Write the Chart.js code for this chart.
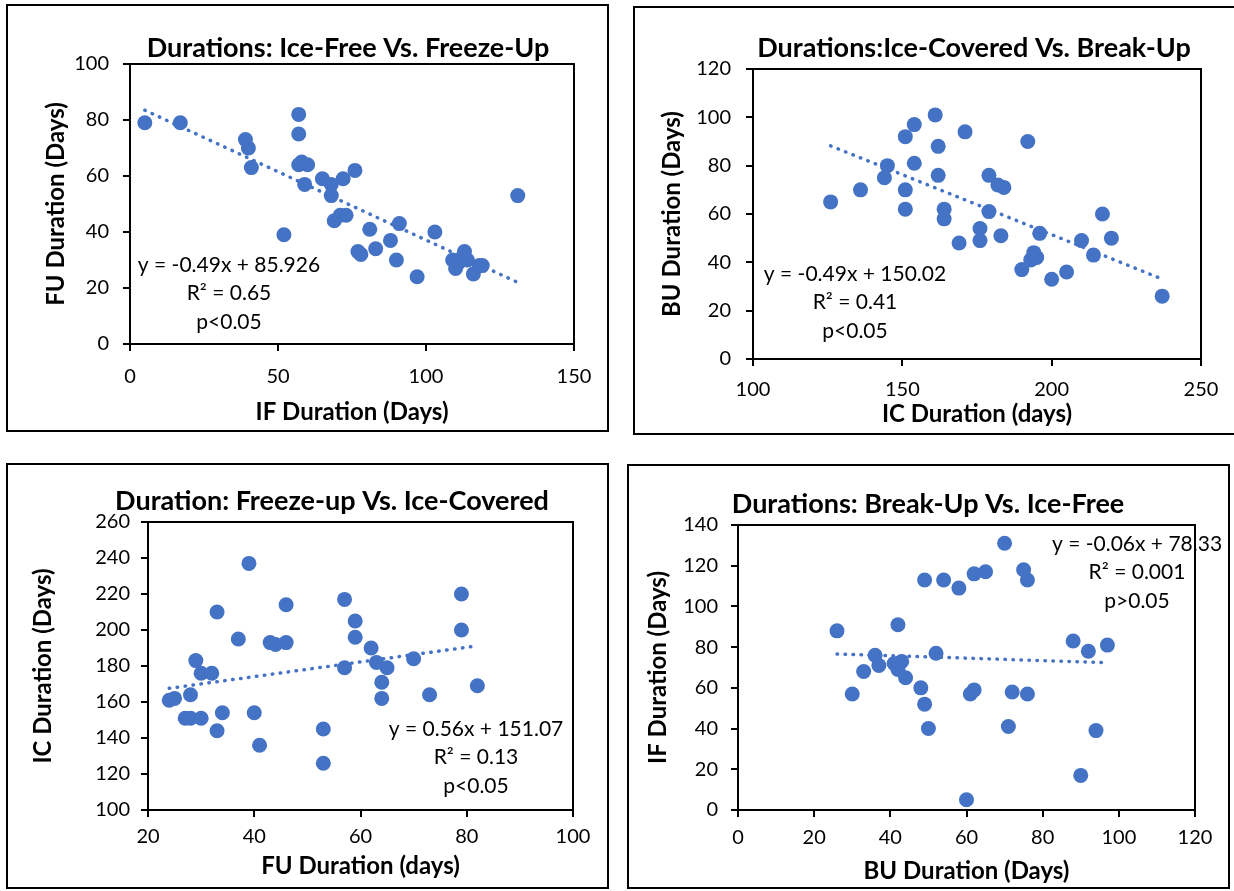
<!DOCTYPE html>
<html>
<head>
<meta charset="utf-8">
<script src="https://cdn.jsdelivr.net/npm/chart.js@4.4.1/dist/chart.umd.min.js"></script>
<style>
  body { margin: 0; background: #fff; overflow: hidden; width: 1234px; height: 891px; position: relative; }
  canvas { position: absolute; }
</style>
</head>
<body>
<canvas id="c1"></canvas>
<canvas id="c2"></canvas>
<canvas id="c3"></canvas>
<canvas id="c4"></canvas>
<script>
// Ice-Free vs Freeze-Up
const ifX = [5, 17, 39, 40, 41, 52, 57, 57, 57, 58, 60, 59, 65, 68, 72, 68, 69, 71, 73, 76, 77, 78, 81, 83, 88, 91, 90, 97, 103, 109, 110, 111, 113, 114, 116, 118, 119, 131];
const fuY = [79, 79, 73, 70, 63, 39, 82, 75, 64, 65, 64, 57, 59, 57, 59, 53, 44, 46, 46, 62, 33, 32, 41, 34, 37, 43, 30, 24, 40, 30, 27, 29, 33, 30, 25, 28, 28, 53];
const ifFuTrendX = [5, 131];
const ifFuTrendY = [83.5, 22.0];

// Ice-Covered vs Break-Up
const icX = [126, 136, 144, 145, 151, 151, 151, 154, 154, 161, 162, 162, 164, 164, 169, 171, 176, 176, 179, 179, 182, 184, 183, 190, 192, 193, 194, 195, 196, 200, 205, 210, 214, 217, 220, 237];
const buY = [65, 70, 75, 80, 92, 70, 62, 97, 81, 101, 88, 76, 62, 58, 48, 94, 54, 49, 76, 61, 72, 71, 51, 37, 90, 41, 44, 42, 52, 33, 36, 49, 43, 60, 50, 26];
const icBuTrendX = [126, 237];
const icBuTrendY = [88.2, 33.1];

// Freeze-up vs Ice-Covered
const fuX = [24, 25, 27, 28, 28, 29, 30, 30, 32, 33, 33, 34, 37, 39, 40, 41, 43, 44, 46, 46, 53, 53, 57, 57, 59, 59, 62, 63, 64, 64, 65, 70, 73, 79, 79, 82];
const icY = [161, 162, 151, 164, 151, 183, 176, 151, 176, 210, 144, 154, 195, 237, 154, 136, 193, 192, 193, 214, 145, 126, 217, 179, 205, 196, 190, 182, 171, 162, 179, 184, 164, 220, 200, 169];
const fuIcTrendX = [24, 82];
const fuIcTrendY = [167.6, 191.2];

// Break-Up vs Ice-Free
const buX = [26, 30, 33, 36, 37, 41, 42, 42, 43, 44, 48, 49, 49, 50, 52, 54, 58, 60, 61, 62, 62, 65, 70, 71, 72, 75, 76, 76, 88, 90, 92, 94, 97];
const ifY = [88, 57, 68, 76, 71, 72, 91, 69, 73, 65, 60, 113, 52, 40, 77, 113, 109, 5, 57, 59, 116, 117, 131, 41, 58, 118, 113, 57, 83, 17, 78, 39, 81];
const buIfTrendX = [26, 97];
const buIfTrendY = [76.6, 72.4];

// axis ticks
const ticks1X = [0, 50, 100, 150], ticks1Y = [0, 20, 40, 60, 80, 100];
const ticks2X = [100, 150, 200, 250], ticks2Y = [0, 20, 40, 60, 80, 100, 120];
const ticks3X = [20, 40, 60, 80, 100], ticks3Y = [100, 120, 140, 160, 180, 200, 220, 240, 260];
const ticks4X = [0, 20, 40, 60, 80, 100, 120], ticks4Y = [0, 20, 40, 60, 80, 100, 120, 140];

const blue = '#4472C4';
const FONT = 'Lato, "Open Sans", sans-serif';

function pts(xs, ys) {
  return xs.map((x, i) => ({ x: x, y: ys[i] }));
}

// page-pixel layout of each panel
const panels = [
  { id: 'c1', box: [6, 4, 609, 432], area: [130, 64, 574, 344],
    xs: ifX, ys: fuY, tx: ifFuTrendX, ty: ifFuTrendY, xt: ticks1X, yt: ticks1Y,
    title: 'Durations: Ice-Free Vs. Freeze-Up', titlePos: [348, 48],
    xTitle: 'IF Duration (Days)', xTitleY: 412, yTitle: 'FU Duration (Days)', yTitleX: 56,
    eq: ['y = -0.49x + 85.926', 'R² = 0.65', 'p<0.05'], eqPos: [229, 265], xLabelY: 377, yPad: 14 },
  { id: 'c2', box: [633, 6, 1240, 435], area: [753, 69, 1201, 359],
    xs: icX, ys: buY, tx: icBuTrendX, ty: icBuTrendY, xt: ticks2X, yt: ticks2Y,
    title: 'Durations:Ice-Covered Vs. Break-Up', titlePos: [974, 48],
    xTitle: 'IC Duration (days)', xTitleY: 414, yTitle: 'BU Duration (Days)', yTitleX: 672,
    eq: ['y = -0.49x + 150.02', 'R² = 0.41', 'p<0.05'], eqPos: [855, 274], xLabelY: 390, yPad: 15 },
  { id: 'c3', box: [6, 463, 609, 889], area: [148, 522, 573, 810],
    xs: fuX, ys: icY, tx: fuIcTrendX, ty: fuIcTrendY, xt: ticks3X, yt: ticks3Y,
    title: 'Duration: Freeze-up Vs. Ice-Covered', titlePos: [332, 501],
    xTitle: 'FU Duration (days)', xTitleY: 866, yTitle: 'IC Duration (Days)', yTitleX: 43,
    eq: ['y = 0.56x + 151.07', 'R² = 0.13', 'p<0.05'], eqPos: [476, 729], xLabelY: 837, yPad: 11 },
  { id: 'c4', box: [627, 464, 1230, 889], area: [738, 525, 1195, 810],
    xs: buX, ys: ifY, tx: buIfTrendX, ty: buIfTrendY, xt: ticks4X, yt: ticks4Y,
    title: 'Durations: Break-Up Vs. Ice-Free', titlePos: [928, 504],
    xTitle: 'BU Duration (Days)', xTitleY: 871, yTitle: 'IF Duration (Days)', yTitleX: 658,
    eq: ['y = -0.06x + 78.33', 'R² = 0.001', 'p>0.05'], eqPos: [1137, 544], xLabelY: 838, yPad: 13 }
];

// plot frame, outer box, title and trend equation
const panelDecor = {
  id: 'panelDecor',
  afterDraw(chart, args, o) {
    const ctx = chart.ctx, a = chart.chartArea;
    ctx.save();
    ctx.strokeStyle = '#000';
    ctx.lineWidth = 2;
    ctx.strokeRect(a.left, a.top, a.right - a.left, a.bottom - a.top);
    ctx.strokeRect(1, 1, chart.width - 2, chart.height - 2);
    ctx.fillStyle = '#000';
    ctx.textAlign = 'center';
    ctx.textBaseline = 'middle';
    ctx.font = 'bold 27px ' + FONT;
    ctx.fillText(o.title, o.titleX, o.titleY);
    ctx.font = '21px ' + FONT;
    o.eq.forEach((t, i) => ctx.fillText(t, o.eqX, o.eqY + i * 28.5));
    ctx.restore();
  }
};

panels.forEach(p => {
  const cv = document.getElementById(p.id);
  const [bl, bt, br, bb] = p.box;
  const [al, at, ar, ab] = p.area;
  cv.width = br - bl;
  cv.height = bb - bt;
  cv.style.left = bl + 'px';
  cv.style.top = bt + 'px';

  const tickFont = { family: FONT, size: 20, lineHeight: 1.2 };
  const titleFont = { family: FONT, size: 24, weight: 'bold', lineHeight: 1.2 };
  const axisGrid = { drawOnChartArea: false, drawTicks: true, tickLength: 7, color: '#000', lineWidth: 2 };
  const axisBorder = { display: true, color: '#000', width: 2 };

  new Chart(cv, {
    type: 'scatter',
    data: {
      datasets: [
        {
          type: 'line',
          data: pts(p.tx, p.ty),
          borderColor: blue,
          borderWidth: 3.5,
          borderDash: [0.5, 7.5],
          borderCapStyle: 'round',
          pointRadius: 0,
          fill: false
        },
        {
          data: pts(p.xs, p.ys),
          backgroundColor: blue,
          borderWidth: 0,
          pointRadius: 7.5,
          pointHoverRadius: 7.5
        }
      ]
    },
    options: {
      responsive: false,
      animation: false,
      events: [],
      layout: { padding: { left: 0, bottom: 0, top: at - bt, right: br - ar } },
      plugins: {
        legend: { display: false },
        tooltip: { enabled: false },
        panelDecor: {
          title: p.title, titleX: p.titlePos[0] - bl, titleY: p.titlePos[1] - bt,
          eq: p.eq, eqX: p.eqPos[0] - bl, eqY: p.eqPos[1] - bt
        }
      },
      scales: {
        x: {
          type: 'linear',
          min: p.xt[0], max: p.xt[p.xt.length - 1],
          ticks: { stepSize: p.xt[1] - p.xt[0], color: '#000', font: tickFont, padding: p.xLabelY - ab - 7 - 12, maxRotation: 0 },
          grid: axisGrid,
          border: axisBorder,
          title: { display: true, text: p.xTitle, color: '#000', font: titleFont,
                   padding: { top: 0, bottom: bb - p.xTitleY - 14.4 } },
          afterFit(s) { s.height = bb - ab; }
        },
        y: {
          type: 'linear',
          min: p.yt[0], max: p.yt[p.yt.length - 1],
          ticks: { stepSize: p.yt[1] - p.yt[0], color: '#000', font: tickFont, padding: p.yPad },
          grid: axisGrid,
          border: axisBorder,
          title: { display: true, text: p.yTitle, color: '#000', font: titleFont,
                   padding: { top: p.yTitleX - bl - 14.4, bottom: 0 } },
          afterFit(s) { s.width = al - bl; }
        }
      }
    },
    plugins: [panelDecor]
  });
});
</script>
</body>
</html>
